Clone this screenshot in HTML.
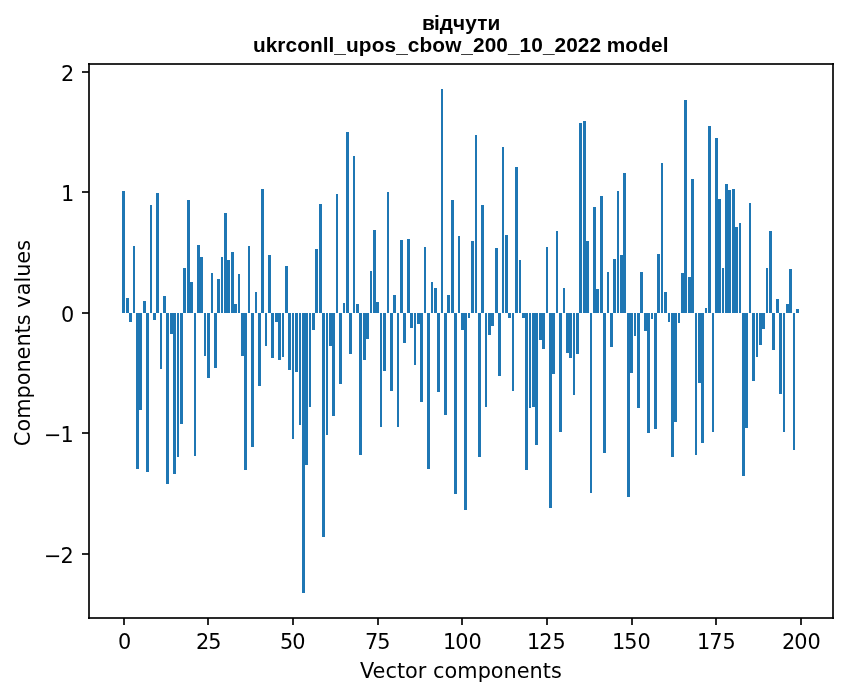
<!DOCTYPE html>
<html lang="uk">
<head>
<meta charset="utf-8">
<title>відчути — ukrconll_upos_cbow_200_10_2022 model</title>
<style>
html,body{margin:0;padding:0;background:#fff;}
body{width:847px;height:696px;overflow:hidden;}
svg{display:block;}
.t{font-family:"DejaVu Sans","Liberation Sans",sans-serif;font-size:20.8333px;fill:#000;}
.b{font-family:"Liberation Sans","DejaVu Sans",sans-serif;font-weight:700;font-size:20.8333px;fill:#000;}
.bar{fill:#1f77b4;shape-rendering:crispEdges;}
.ax{fill:#000;fill-opacity:0.8353;shape-rendering:crispEdges;}
</style>
</head>
<body>
<svg width="847" height="696" viewBox="0 0 847 696">
<rect x="0" y="0" width="847" height="696" fill="#fff"/>
<g class="bar">
<rect x="122" y="191" width="3" height="122"/>
<rect x="126" y="298" width="3" height="15"/>
<rect x="129" y="313" width="3" height="9"/>
<rect x="133" y="246" width="2" height="67"/>
<rect x="136" y="313" width="3" height="156"/>
<rect x="139" y="313" width="3" height="97"/>
<rect x="143" y="301" width="3" height="12"/>
<rect x="146" y="313" width="3" height="159"/>
<rect x="150" y="205" width="2" height="108"/>
<rect x="153" y="313" width="3" height="7"/>
<rect x="156" y="193" width="3" height="120"/>
<rect x="160" y="313" width="2" height="56"/>
<rect x="163" y="296" width="3" height="17"/>
<rect x="166" y="313" width="3" height="171"/>
<rect x="170" y="313" width="3" height="21"/>
<rect x="173" y="313" width="3" height="161"/>
<rect x="177" y="313" width="2" height="144"/>
<rect x="180" y="313" width="3" height="111"/>
<rect x="183" y="268" width="3" height="45"/>
<rect x="187" y="200" width="3" height="113"/>
<rect x="190" y="282" width="3" height="31"/>
<rect x="194" y="313" width="2" height="143"/>
<rect x="197" y="245" width="3" height="68"/>
<rect x="200" y="257" width="3" height="56"/>
<rect x="204" y="313" width="2" height="43"/>
<rect x="207" y="313" width="3" height="65"/>
<rect x="211" y="273" width="2" height="40"/>
<rect x="214" y="313" width="3" height="55"/>
<rect x="217" y="279" width="3" height="34"/>
<rect x="221" y="257" width="2" height="56"/>
<rect x="224" y="213" width="3" height="100"/>
<rect x="227" y="260" width="3" height="53"/>
<rect x="231" y="252" width="3" height="61"/>
<rect x="234" y="304" width="3" height="9"/>
<rect x="238" y="274" width="2" height="39"/>
<rect x="241" y="313" width="3" height="43"/>
<rect x="244" y="313" width="3" height="157"/>
<rect x="248" y="246" width="2" height="67"/>
<rect x="251" y="313" width="3" height="134"/>
<rect x="255" y="292" width="2" height="21"/>
<rect x="258" y="313" width="3" height="73"/>
<rect x="261" y="189" width="3" height="124"/>
<rect x="265" y="313" width="2" height="33"/>
<rect x="268" y="255" width="3" height="58"/>
<rect x="271" y="313" width="3" height="45"/>
<rect x="275" y="313" width="3" height="9"/>
<rect x="278" y="313" width="3" height="47"/>
<rect x="282" y="313" width="2" height="44"/>
<rect x="285" y="266" width="3" height="47"/>
<rect x="288" y="313" width="3" height="57"/>
<rect x="292" y="313" width="2" height="126"/>
<rect x="295" y="313" width="3" height="59"/>
<rect x="299" y="313" width="2" height="112"/>
<rect x="302" y="313" width="3" height="280"/>
<rect x="305" y="313" width="3" height="152"/>
<rect x="309" y="313" width="2" height="94"/>
<rect x="312" y="313" width="3" height="17"/>
<rect x="315" y="249" width="3" height="64"/>
<rect x="319" y="204" width="3" height="109"/>
<rect x="322" y="313" width="3" height="224"/>
<rect x="326" y="313" width="2" height="122"/>
<rect x="329" y="313" width="3" height="33"/>
<rect x="332" y="313" width="3" height="103"/>
<rect x="336" y="194" width="2" height="119"/>
<rect x="339" y="313" width="3" height="71"/>
<rect x="343" y="303" width="2" height="10"/>
<rect x="346" y="132" width="3" height="181"/>
<rect x="349" y="313" width="3" height="41"/>
<rect x="353" y="156" width="2" height="157"/>
<rect x="356" y="304" width="3" height="9"/>
<rect x="359" y="313" width="3" height="142"/>
<rect x="363" y="313" width="3" height="47"/>
<rect x="366" y="313" width="3" height="26"/>
<rect x="370" y="271" width="2" height="42"/>
<rect x="373" y="230" width="3" height="83"/>
<rect x="376" y="302" width="3" height="11"/>
<rect x="380" y="313" width="2" height="114"/>
<rect x="383" y="313" width="3" height="58"/>
<rect x="387" y="192" width="2" height="121"/>
<rect x="390" y="313" width="3" height="78"/>
<rect x="393" y="295" width="3" height="18"/>
<rect x="397" y="313" width="2" height="114"/>
<rect x="400" y="240" width="3" height="73"/>
<rect x="403" y="313" width="3" height="30"/>
<rect x="407" y="239" width="3" height="74"/>
<rect x="410" y="313" width="3" height="15"/>
<rect x="414" y="313" width="2" height="52"/>
<rect x="417" y="313" width="3" height="11"/>
<rect x="420" y="313" width="3" height="89"/>
<rect x="424" y="247" width="2" height="66"/>
<rect x="427" y="313" width="3" height="156"/>
<rect x="431" y="282" width="2" height="31"/>
<rect x="434" y="288" width="3" height="25"/>
<rect x="437" y="313" width="3" height="79"/>
<rect x="441" y="89" width="2" height="224"/>
<rect x="444" y="313" width="3" height="102"/>
<rect x="447" y="295" width="3" height="18"/>
<rect x="451" y="200" width="3" height="113"/>
<rect x="454" y="313" width="3" height="181"/>
<rect x="458" y="236" width="2" height="77"/>
<rect x="461" y="313" width="3" height="17"/>
<rect x="464" y="313" width="3" height="197"/>
<rect x="468" y="313" width="2" height="5"/>
<rect x="471" y="241" width="3" height="72"/>
<rect x="475" y="135" width="2" height="178"/>
<rect x="478" y="313" width="3" height="144"/>
<rect x="481" y="205" width="3" height="108"/>
<rect x="485" y="313" width="2" height="94"/>
<rect x="488" y="313" width="3" height="22"/>
<rect x="491" y="313" width="3" height="13"/>
<rect x="495" y="248" width="3" height="65"/>
<rect x="498" y="313" width="3" height="63"/>
<rect x="502" y="147" width="2" height="166"/>
<rect x="505" y="235" width="3" height="78"/>
<rect x="508" y="313" width="3" height="5"/>
<rect x="512" y="313" width="2" height="78"/>
<rect x="515" y="167" width="3" height="146"/>
<rect x="519" y="260" width="2" height="53"/>
<rect x="522" y="313" width="3" height="5"/>
<rect x="525" y="313" width="3" height="157"/>
<rect x="529" y="313" width="2" height="95"/>
<rect x="532" y="313" width="3" height="94"/>
<rect x="535" y="313" width="3" height="132"/>
<rect x="539" y="313" width="3" height="27"/>
<rect x="542" y="313" width="3" height="36"/>
<rect x="546" y="247" width="2" height="66"/>
<rect x="549" y="313" width="3" height="195"/>
<rect x="552" y="313" width="3" height="61"/>
<rect x="556" y="231" width="2" height="82"/>
<rect x="559" y="313" width="3" height="119"/>
<rect x="563" y="288" width="2" height="25"/>
<rect x="566" y="313" width="3" height="40"/>
<rect x="569" y="313" width="3" height="45"/>
<rect x="573" y="313" width="2" height="82"/>
<rect x="576" y="313" width="3" height="41"/>
<rect x="579" y="123" width="3" height="190"/>
<rect x="583" y="121" width="3" height="192"/>
<rect x="586" y="241" width="3" height="72"/>
<rect x="590" y="313" width="2" height="180"/>
<rect x="593" y="207" width="3" height="106"/>
<rect x="596" y="289" width="3" height="24"/>
<rect x="600" y="196" width="3" height="117"/>
<rect x="603" y="313" width="3" height="140"/>
<rect x="607" y="272" width="2" height="41"/>
<rect x="610" y="313" width="3" height="34"/>
<rect x="613" y="259" width="3" height="54"/>
<rect x="617" y="191" width="2" height="122"/>
<rect x="620" y="255" width="3" height="58"/>
<rect x="623" y="173" width="3" height="140"/>
<rect x="627" y="313" width="3" height="184"/>
<rect x="630" y="313" width="3" height="60"/>
<rect x="634" y="313" width="2" height="23"/>
<rect x="637" y="313" width="3" height="95"/>
<rect x="640" y="272" width="3" height="41"/>
<rect x="644" y="313" width="3" height="18"/>
<rect x="647" y="313" width="3" height="120"/>
<rect x="651" y="313" width="2" height="6"/>
<rect x="654" y="313" width="3" height="116"/>
<rect x="657" y="254" width="3" height="59"/>
<rect x="661" y="163" width="2" height="150"/>
<rect x="664" y="292" width="3" height="21"/>
<rect x="668" y="313" width="2" height="9"/>
<rect x="671" y="313" width="3" height="144"/>
<rect x="674" y="313" width="3" height="109"/>
<rect x="678" y="313" width="2" height="10"/>
<rect x="681" y="273" width="3" height="40"/>
<rect x="684" y="100" width="3" height="213"/>
<rect x="688" y="277" width="3" height="36"/>
<rect x="691" y="179" width="3" height="134"/>
<rect x="695" y="313" width="2" height="142"/>
<rect x="698" y="313" width="3" height="70"/>
<rect x="701" y="313" width="3" height="130"/>
<rect x="705" y="308" width="2" height="5"/>
<rect x="708" y="126" width="3" height="187"/>
<rect x="712" y="313" width="2" height="119"/>
<rect x="715" y="138" width="3" height="175"/>
<rect x="718" y="199" width="3" height="114"/>
<rect x="722" y="268" width="2" height="45"/>
<rect x="725" y="184" width="3" height="129"/>
<rect x="728" y="190" width="3" height="123"/>
<rect x="732" y="189" width="3" height="124"/>
<rect x="735" y="227" width="3" height="86"/>
<rect x="739" y="223" width="2" height="90"/>
<rect x="742" y="313" width="3" height="163"/>
<rect x="745" y="313" width="3" height="115"/>
<rect x="749" y="203" width="2" height="110"/>
<rect x="752" y="313" width="3" height="68"/>
<rect x="756" y="313" width="2" height="44"/>
<rect x="759" y="313" width="3" height="32"/>
<rect x="762" y="313" width="3" height="16"/>
<rect x="766" y="268" width="2" height="45"/>
<rect x="769" y="231" width="3" height="82"/>
<rect x="772" y="313" width="3" height="37"/>
<rect x="776" y="299" width="3" height="14"/>
<rect x="779" y="313" width="3" height="81"/>
<rect x="783" y="313" width="2" height="119"/>
<rect x="786" y="304" width="3" height="9"/>
<rect x="789" y="269" width="3" height="44"/>
<rect x="793" y="313" width="2" height="137"/>
<rect x="796" y="309" width="3" height="4"/>
</g>
<g class="ax">
<rect x="88" y="63" width="2" height="556"/>
<rect x="832" y="63" width="2" height="556"/>
<rect x="88" y="63" width="746" height="2"/>
<rect x="88" y="617" width="746" height="2"/>
<rect x="123" y="618" width="2" height="7"/>
<rect x="207" y="618" width="2" height="7"/>
<rect x="292" y="618" width="2" height="7"/>
<rect x="377" y="618" width="2" height="7"/>
<rect x="461" y="618" width="2" height="7"/>
<rect x="546" y="618" width="2" height="7"/>
<rect x="631" y="618" width="2" height="7"/>
<rect x="715" y="618" width="2" height="7"/>
<rect x="800" y="618" width="2" height="7"/>
<rect x="82" y="71" width="7" height="2"/>
<rect x="82" y="191" width="7" height="2"/>
<rect x="82" y="312" width="7" height="2"/>
<rect x="82" y="432" width="7" height="2"/>
<rect x="82" y="553" width="7" height="2"/>
</g>
<text class="t" x="118.077" y="648.60">0</text>
<text class="t" x="195.957 208.207" y="648.60">25</text>
<text class="t" x="279.962 292.212" y="648.60">50</text>
<text class="t" x="364.967 377.217" y="648.60">75</text>
<text class="t" x="442.972 455.222 468.472" y="648.60">100</text>
<text class="t" x="526.987 539.237 552.487" y="648.60">125</text>
<text class="t" x="611.992 624.242 637.492" y="648.60">150</text>
<text class="t" x="696.997 709.247 722.497" y="648.60">175</text>
<text class="t" x="781.877 794.127 807.377" y="648.60">200</text>
<text class="t" x="359.954 372.579 385.392 396.97 405.017 417.751 426.313 432.938 444.392 457.126 477.673 490.642 503.376 516.704 529.392 542.72 550.892" y="677.60">Vector components</text>
<text class="t" x="43.991 60.429" y="562.54">−2</text>
<text class="t" x="43.991 60.429" y="441.72">−1</text>
<text class="t" x="60.944" y="321.65">0</text>
<text class="t" x="60.944" y="200.58">1</text>
<text class="t" x="60.944" y="80.51">2</text>
<text class="t" transform="translate(29.58 342.99) rotate(-90)" x="-103.32 -88.539 -75.789 -55.508 -42.289 -29.539 -16.586 -3.523 9.43 17.836 28.695 35.32 47.648 60.398 66.195 79.148 92.211" y="0">Components values</text>
<text class="b" x="421.91 433.957 439.738 452.957 465.301 477.144 487.473" y="29.60">відчути</text>
<text class="b" x="253.11 265.641 277.157 285.438 297.329 310.11 322.641 328.485 334.204 345.969 358.626 371.782 384.563 396.204 407.844 419.485 432.266 445.173 461.298 472.938 484.704 496.219 507.985 519.501 531.141 542.907 554.423 566.188 577.704 589.469 600.985 606.829 625.157 638.188 650.969 662.735" y="51.54">ukrconll_upos_cbow_200_10_2022 model</text>
</svg>
</body>
</html>
